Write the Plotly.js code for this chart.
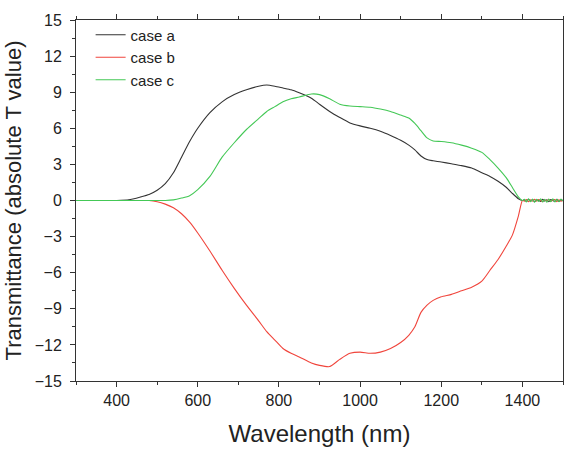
<!DOCTYPE html>
<html>
<head>
<meta charset="utf-8">
<script src="https://cdn.plot.ly/plotly-3.0.1.min.js"></script>
<style>html,body{margin:0;padding:0;background:#fff;}#chart{width:565px;height:450px;}</style>
</head>
<body>
<div id="chart"></div>
<script>
// Wavelength (nm) for the smooth part of every curve
const wavelength = [300,350,400,430,460,480,500,520,540,560,580,600,630,660,690,720,750,770,790,810,830,850,880,900,925,950,975,1000,1025,1050,1075,1100,1120,1135,1150,1165,1180,1200,1225,1250,1275,1300,1320,1340,1360,1375,1390,1400];
const caseA = [0,0,0,0.05,0.3,0.5,0.85,1.4,2.3,3.6,4.9,6.0,7.3,8.2,8.8,9.2,9.5,9.6,9.5,9.35,9.2,8.95,8.5,8.0,7.4,6.9,6.45,6.2,6.0,5.75,5.4,5.0,4.6,4.2,3.7,3.4,3.3,3.2,3.05,2.9,2.7,2.3,2.0,1.6,1.1,0.6,0.15,0];
const caseB = [0,0,0,0,0,0,-0.1,-0.3,-0.6,-1.1,-1.8,-2.7,-4.2,-5.8,-7.3,-8.7,-10.0,-10.9,-11.6,-12.3,-12.7,-13.0,-13.5,-13.7,-13.8,-13.2,-12.7,-12.6,-12.7,-12.6,-12.3,-11.8,-11.2,-10.5,-9.3,-8.7,-8.3,-8.0,-7.8,-7.5,-7.2,-6.7,-5.8,-4.9,-3.8,-2.9,-1.3,0];
const caseC = [0,0,0,0,0,0,0,0,0.05,0.2,0.4,0.9,2.0,3.6,4.8,5.9,6.8,7.4,7.8,8.2,8.45,8.6,8.85,8.8,8.45,8.0,7.85,7.8,7.75,7.6,7.4,7.1,6.85,6.4,5.8,5.2,4.95,4.9,4.8,4.6,4.35,4.0,3.4,2.7,1.9,1.1,0.3,0];
// Noisy tail beyond 1400 nm
const tailWavelength = [1405,1410,1415,1420,1425,1430,1435,1440,1445,1450,1455,1460,1465,1470,1475,1480,1485,1490,1495,1500];
const tailA = [0.05,-0.08,0.1,-0.05,0.08,-0.1,0.05,0.0,-0.08,0.1,-0.05,0.06,-0.1,0.08,0.0,-0.06,0.1,-0.08,0.05,0.0];
const tailB = [-0.05,0.08,-0.1,0.05,-0.06,0.1,-0.05,0.08,0.0,-0.1,0.06,-0.05,0.1,-0.06,0.05,0.08,-0.1,0.06,-0.05,0.0];
const tailC = [0.1,-0.12,0.15,-0.1,0.12,-0.15,0.1,-0.08,0.15,-0.12,0.1,-0.15,0.12,-0.1,0.15,-0.12,0.1,-0.1,0.12,-0.05];
const seriesNames = ["case a","case b","case c"];
const seriesColors = ["#333333","#f0453c","#44c856"];

const xs = wavelength.concat(tailWavelength);
const ys = [caseA.concat(tailA), caseB.concat(tailB), caseC.concat(tailC)];
const traces = ys.map((y,i)=>({
  x: xs, y: y, type: "scatter", mode: "lines", name: seriesNames[i],
  line: {color: seriesColors[i], width: 1.1, shape: "spline", smoothing: 0.6}
}));

const fam = "Liberation Sans, Arial, sans-serif";
const layout = {
  width: 565, height: 450,
  margin: {l: 76, r: 2, t: 20, b: 69},
  paper_bgcolor: "#fff", plot_bgcolor: "#fff",
  font: {family: fam, color: "#222"},
  showlegend: true,
  legend: {x: 0.03, y: 1.004, xanchor: "left", yanchor: "top", bgcolor: "rgba(0,0,0,0)",
           font: {family: fam, size: 15, color: "#222"}, tracegroupgap: 0},
  xaxis: {
    range: [300, 1500], dtick: 200, tick0: 400,
    ticks: "outside", ticklen: 5, tickwidth: 1, tickcolor: "#333",
    minor: {dtick: 100, ticks: "outside", ticklen: 3, tickcolor: "#333"},
    showline: true, linecolor: "#333", linewidth: 1, mirror: "ticks",
    showgrid: false, zeroline: false,
    tickfont: {family: fam, size: 16, color: "#222"},
    title: {text: "Wavelength (nm)", font: {family: fam, size: 24, color: "#222"}, standoff: 16}
  },
  yaxis: {
    range: [-15, 15], dtick: 3, tick0: 0,
    ticks: "outside", ticklen: 5, tickwidth: 1, tickcolor: "#333",
    minor: {dtick: 1.5, ticks: "outside", ticklen: 3, tickcolor: "#333"},
    showline: true, linecolor: "#333", linewidth: 1, mirror: true,
    showgrid: false, zeroline: false, ticklabelstandoff: 5,
    tickfont: {family: fam, size: 16, color: "#222"},
    title: {text: "Transmittance (absolute T value)", font: {family: fam, size: 22, color: "#222"}, standoff: 6}
  }
};
Plotly.newPlot("chart", traces, layout, {displayModeBar: false, staticPlot: true});
</script>
</body>
</html>
